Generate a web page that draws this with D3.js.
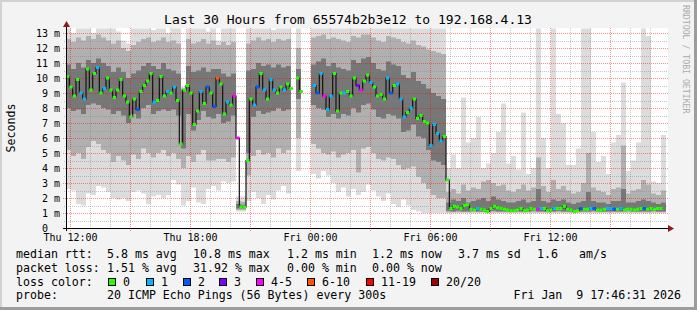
<!DOCTYPE html>
<html>
<head>
<meta charset="utf-8">
<script src="https://cdn.jsdelivr.net/npm/d3@7"></script>
<style>
body{margin:0;background:#f3f3f3;}
svg text{font-family:"DejaVu Sans Mono",monospace;}
</style>
</head>
<body>
<svg id="chart"></svg>
<script>
// time window of the graph
const startTime = new Date(2026, 0, 8, 11, 48);
const endTime = new Date(2026, 0, 9, 17, 48);
const smokeStepMin = 15;
const medianStepMin = 10;

// smoke bands (ms), one value per 15 minutes
const smokeHiOuter = [
13.3,13.0,13.3,13.3,13.3,13.0,13.3,13.3,13.3,13.3,
13.1,12.5,12.3,13.3,13.3,13.3,13.3,13.2,13.3,13.3,
13.0,13.3,13.3,9.4,13.3,13.3,13.3,13.3,13.1,13.3,
12.5,13.3,13.3,13.3,2.1,2.1,13.3,13.3,13.3,13.3,
13.3,13.2,13.3,13.3,13.3,null,13.3,null,null,13.3,
13.3,13.3,13.3,13.3,13.3,13.3,13.3,13.3,13.3,13.3,
13.3,13.3,13.3,13.3,13.3,13.3,13.3,13.3,13.3,13.3,
13.3,13.3,13.3,13.3,13.3,13.3,4.0,4.9,4.0,8.7,
5.7,6.0,7.4,4.0,4.3,5.0,6.4,8.3,4.3,4.8,
3.9,7.7,3.6,4.0,13.3,6.0,4.0,13.3,7.6,7.0,
4.2,4.2,5.3,13.3,13.3,6.4,4.4,4.8,3.6,5.7,
6.2,9.7,3.8,4.5,5.7,13.3,12.8,3.1,3.0,6.2];
const smokeHiMid = [
12.6,12.4,12.7,12.5,12.8,12.6,12.9,12.7,12.5,12.3,
12.5,12.0,11.8,12.2,12.4,12.6,12.7,12.4,12.5,12.7,
12.4,12.5,12.3,9.3,12.6,12.3,12.4,12.6,12.3,12.5,
12.2,12.4,12.2,12.4,1.8,1.75,12.3,12.5,12.7,12.5,
12.6,12.4,12.6,12.5,12.6,null,12.0,null,null,12.7,
12.8,12.9,12.6,12.7,12.6,12.5,12.4,12.8,12.7,12.9,
12.9,12.7,12.5,12.4,12.8,12.7,12.6,12.4,12.3,12.5,
12.2,12.1,11.9,11.8,11.7,11.6,2.4,2.6,2.3,2.9,
2.5,2.7,2.6,3.1,3.2,3.0,2.8,2.9,2.5,2.4,
2.6,2.9,2.5,2.7,4.7,2.8,2.4,3.2,2.6,2.8,
2.5,2.3,2.4,3.0,5.0,2.7,2.5,2.4,2.2,2.6,
2.7,5.5,2.3,2.5,2.6,3.2,2.9,2.3,2.2,2.5];
const smokeHiInner = [
10.9,10.6,11.0,10.7,11.2,11.0,11.3,11.0,10.8,10.4,
10.7,10.4,10.0,10.3,10.5,10.8,11.0,10.8,10.6,11.0,
10.6,10.5,10.3,9.2,10.8,10.4,10.5,10.7,10.4,10.6,
10.6,10.3,10.1,10.3,1.6,1.55,10.5,10.6,11.0,10.8,
10.9,10.7,10.9,10.7,10.8,null,10.6,null,null,10.9,
11.1,11.3,10.8,11.0,10.7,10.6,10.5,11.2,11.0,11.3,
11.4,11.0,10.6,10.5,11.1,10.9,10.8,10.2,10.0,10.4,
9.8,9.6,9.3,9.0,8.8,8.6,1.7,1.9,1.8,2.0,
1.7,1.8,1.9,2.0,1.8,2.1,1.9,1.8,1.7,1.7,
1.8,1.9,1.7,1.8,2.6,1.8,1.7,1.9,1.8,1.9,
1.7,1.6,1.7,1.8,2.4,1.8,1.7,1.7,1.6,1.8,
1.8,2.6,1.7,1.7,1.8,1.9,1.8,1.7,1.6,1.7];
const smokeLoInner = [
8.0,7.8,7.9,7.6,8.2,8.3,8.2,8.0,7.9,7.6,
7.8,7.5,7.0,7.6,7.3,8.0,8.2,7.6,7.8,7.9,
7.8,7.9,7.5,5.3,7.6,6.5,7.2,7.8,7.4,7.3,
7.6,7.0,7.1,7.5,1.3,1.3,5.0,7.4,7.8,7.6,
7.7,7.8,8.0,7.8,7.9,null,8.6,null,null,8.2,
8.0,7.9,7.4,7.6,7.3,7.6,7.5,8.0,7.7,8.2,
8.3,7.9,7.4,7.3,7.6,7.5,7.3,6.4,6.5,6.9,
6.1,6.0,5.2,4.5,4.4,4.2,1.15,1.1,1.15,1.1,
1.1,1.15,1.1,1.1,1.1,1.15,1.1,1.1,1.1,1.15,
1.1,1.1,1.1,1.15,1.1,1.1,1.1,1.1,1.15,1.1,
1.1,1.1,1.1,1.1,1.1,1.15,1.1,1.1,1.1,1.1,
1.1,1.1,1.15,1.1,1.1,1.1,1.1,1.15,1.1,1.1];
const smokeLoMid = [
5.2,4.8,5.0,4.6,5.4,5.8,5.6,5.2,5.0,4.4,
4.8,4.5,4.2,4.9,4.6,5.3,5.0,4.7,5.0,5.2,
4.8,5.0,4.6,4.0,4.8,4.4,4.9,5.2,4.5,4.5,
4.6,4.6,4.4,4.7,1.2,1.2,3.5,4.8,5.2,4.9,
5.0,4.7,5.3,5.0,5.2,null,6.0,null,null,5.6,
5.3,5.0,4.9,5.1,4.7,4.9,5.0,5.2,3.7,5.3,
5.4,5.0,4.6,4.5,4.7,4.6,4.2,3.9,4.0,4.1,
3.4,3.0,2.6,2.2,2.0,2.0,1.05,1.05,1.05,1.05,
1.05,1.05,1.05,1.05,1.05,1.05,1.05,1.05,1.05,1.05,
1.05,1.05,1.05,1.05,1.05,1.05,1.05,1.05,1.05,1.05,
1.05,1.05,1.05,1.05,1.05,1.05,1.05,1.05,1.05,1.05,
1.05,1.05,1.05,1.05,1.05,1.05,1.05,1.05,1.05,1.05];
const smokeLoOuter = [
2.6,2.5,1.6,1.5,2.3,2.2,2.8,2.7,2.4,2.0,
1.9,2.0,1.8,2.4,2.5,2.3,1.6,2.1,2.2,2.0,
2.2,3.2,2.9,1.5,1.8,2.7,1.7,1.6,2.6,2.8,
2.5,3.1,3.0,3.1,1.1,1.1,1.8,2.4,2.0,1.6,
2.2,1.9,2.5,2.8,2.3,null,3.8,null,null,3.6,
3.3,3.8,3.5,3.0,2.4,2.7,2.1,2.6,2.2,2.4,
2.9,2.5,2.1,1.8,2.3,1.6,1.4,1.9,1.5,1.2,
1.1,1.0,1.0,1.0,1.0,1.0,1.0,1.0,1.0,1.0,
1.0,1.0,1.0,1.0,1.0,1.0,1.0,1.0,1.0,1.0,
1.0,1.0,1.0,1.0,1.0,1.0,1.0,1.0,1.0,1.0,
1.0,1.0,1.0,1.0,1.0,1.0,1.0,1.0,1.0,1.0,
1.0,1.0,1.0,1.0,1.0,1.0,1.0,1.0,1.0,1.0];

// median rtt (ms), one value per 10 minutes
const medianMs = [
10.1,9.4,8.8,9.9,9.0,8.6,10.6,9.2,10.3,10.7,
9.0,9.3,10.0,9.2,8.7,9.2,9.9,8.8,8.4,7.4,
8.6,7.9,9.1,9.5,9.8,10.3,8.4,8.5,10.1,8.8,
9.1,9.0,9.4,8.5,5.6,9.2,9.5,9.0,6.9,7.8,
9.1,8.3,9.4,9.0,8.1,10.0,9.6,7.6,8.4,8.2,
8.8,6.0,1.4,1.4,4.5,8.6,8.2,9.4,10.3,9.2,
8.6,9.9,9.2,9.0,9.4,9.2,9.6,9.3,null,10.0,
9.1,null,null,null,9.5,9.0,10.3,8.8,7.9,8.8,
10.3,7.8,9.0,9.0,9.1,8.8,10.0,9.5,9.2,9.8,
10.2,9.7,9.4,8.8,8.9,8.6,10.0,9.0,9.5,9.6,
8.6,7.4,7.7,8.0,8.6,7.3,7.5,7.1,7.0,5.5,
6.9,6.3,5.8,6.1,3.2,1.3,1.45,1.4,1.3,1.5,
1.55,1.25,1.2,1.3,1.25,1.2,1.1,1.3,1.45,1.35,
1.3,1.25,1.2,1.15,1.15,1.2,1.3,1.15,1.2,1.3,
1.25,1.25,1.3,1.3,1.15,1.2,1.3,1.3,1.3,1.45,
1.25,1.2,1.1,1.15,1.3,1.25,1.25,1.3,1.3,1.2,
1.2,1.25,1.3,1.3,1.25,1.25,1.3,1.2,1.25,1.25,
1.2,1.25,1.3,1.3,1.25,1.3,1.25,1.3,1.3,null];

// lost pings out of 20, per median step
const lostPings = [
0,0,0,0,1,1,0,0,0,1, 0,1,0,0,0,0,0,0,0,0,
0,2,0,0,0,0,1,0,0,0, 1,0,1,0,0,0,0,0,0,0,
1,0,2,0,2,6,0,0,1,0, 4,4,0,0,0,0,1,2,0,1,
0,1,1,0,0,1,0,0,0,0, 0,0,0,0,1,2,1,4,1,1,
0,0,0,1,0,0,0,3,4,0, 0,1,0,0,0,0,1,2,0,1,
1,1,0,1,0,0,0,0,0,1, 1,1,1,0,0,0,0,0,0,0,
0,0,0,1,0,0,0,0,0,0, 0,0,0,0,0,0,0,0,0,0,
0,4,1,0,0,0,1,0,0,0, 0,0,0,0,2,0,0,1,2,0,
0,0,1,1,2,0,1,0,0,0, 0,0,0,2,0,0,0,0,0,0];

const lossLabels = ['0','1','2','3','4-5','6-10','11-19','20/20'];
const lossColors = ['#26ff00','#00b8ff','#0059ff','#7e00ff','#ff00ff','#ff5500','#ff0000','#a10000'];

const yTickValues = [0,1,2,3,4,5,6,7,8,9,10,11,12,13];
const xLabelTimes = [new Date(2026,0,8,12), new Date(2026,0,8,18), new Date(2026,0,9,0), new Date(2026,0,9,6), new Date(2026,0,9,12)];

const W = 697, H = 310;
let svg = d3.select('#chart').attr('width', W).attr('height', H);

// frame
svg.append('rect').attr('width', W).attr('height', H).attr('fill', '#f3f3f3');
svg.append('rect').attr('x', 0).attr('y', 0).attr('width', W).attr('height', 2).attr('fill', '#d2d2d2');
svg.append('rect').attr('x', 0).attr('y', 0).attr('width', 2).attr('height', H).attr('fill', '#d2d2d2');
svg.append('rect').attr('x', 0).attr('y', H-3).attr('width', W).attr('height', 3).attr('fill', '#9c9c9c');
svg.append('rect').attr('x', W-3).attr('y', 0).attr('width', 3).attr('height', H).attr('fill', '#9c9c9c');

let xScale = d3.scaleTime().domain([startTime, endTime]).range([66, 666]);
let yScale = d3.scaleLinear().domain([0, 200/15]).range([228, 28]);

svg.append('rect').attr('x', 66).attr('y', 28).attr('width', 602).attr('height', 200).attr('fill', '#ffffff');

svg.append('clipPath').attr('id', 'canvas')
   .append('rect').attr('x', 66).attr('y', 28).attr('width', 602).attr('height', 200);

let stepTime = (i, minutes) => new Date(startTime.getTime() + i * minutes * 60000);

// smoke
let smokeRows = [];
smokeHiOuter.forEach((v, i) => {
    let row = {hiO: v, hiM: smokeHiMid[i], hiI: smokeHiInner[i],
               loI: smokeLoInner[i], loM: smokeLoMid[i], loO: smokeLoOuter[i]};
    smokeRows.push(Object.assign({t: stepTime(i, smokeStepMin)}, row));
    smokeRows.push(Object.assign({t: stepTime(i + 1, smokeStepMin)}, row));
});

let smoke = svg.append('g').attr('clip-path', 'url(#canvas)');
[['loO','hiO','#dcdcdc'], ['loM','hiM','#b0b0b0'], ['loI','hiI','#777777']].forEach(([lo, hi, col]) => {
    let area = d3.area()
                 .defined(d => d[hi] != null)
                 .x(d => xScale(d.t))
                 .y0(d => yScale(d[lo]))
                 .y1(d => yScale(d[hi]));
    smoke.append('path').datum(smokeRows).attr('d', area).attr('fill', col);
});

// grid
let grid = svg.append('g').attr('shape-rendering', 'crispEdges');
let hours = d3.timeHour.every(1).range(startTime, endTime);
hours.forEach(h => {
    let major = h.getHours() % 3 === 0;
    let x = Math.round(xScale(h)) + 0.5;
    grid.append('line')
        .attr('x1', x).attr('x2', x)
        .attr('y1', 28).attr('y2', major ? 231 : 230)
        .attr('stroke', major ? 'rgba(255,0,0,0.45)' : 'rgba(130,130,130,0.45)')
        .attr('stroke-dasharray', '1,1');
});
d3.range(1, 27).forEach(k => {
    let v = k / 2;
    let major = k % 2 === 0;
    let y = Math.round(yScale(v)) + 0.5;
    grid.append('line')
        .attr('x1', major ? 63 : 64).attr('x2', 668)
        .attr('y1', y).attr('y2', y)
        .attr('stroke', major ? 'rgba(255,0,0,0.45)' : 'rgba(130,130,130,0.45)')
        .attr('stroke-dasharray', '1,1');
});

// median: dark core then loss-coloured steps
let medRows = [];
medianMs.forEach((v, j) => {
    medRows.push({t: stepTime(j, medianStepMin), v: v});
    medRows.push({t: stepTime(j + 1, medianStepMin), v: v});
});
let coreLine = d3.line().defined(d => d.v != null).x(d => xScale(d.t)).y(d => yScale(d.v));
svg.append('path').datum(medRows).attr('d', coreLine)
   .attr('fill', 'none').attr('stroke', '#141414').attr('stroke-width', 1.2)
   .attr('clip-path', 'url(#canvas)');

let lossIndex = n => n === 0 ? 0 : n === 1 ? 1 : n === 2 ? 2 : n === 3 ? 3 :
                     n <= 5 ? 4 : n <= 10 ? 5 : n < 20 ? 6 : 7;

svg.append('g').attr('clip-path', 'url(#canvas)')
   .selectAll('rect')
   .data(medianMs.map((v, j) => ({j: j, v: v, loss: lostPings[j]})).filter(d => d.v != null))
   .enter()
   .append('rect')
   .attr('x', d => xScale(stepTime(d.j, medianStepMin)))
   .attr('width', d => xScale(stepTime(d.j + 1, medianStepMin)) - xScale(stepTime(d.j, medianStepMin)))
   .attr('y', d => yScale(d.v) - 1.5)
   .attr('height', 3)
   .attr('fill', d => lossColors[lossIndex(d.loss)]);

// axes
svg.append('line').attr('x1', 63).attr('x2', 670).attr('y1', 228.5).attr('y2', 228.5)
   .attr('stroke', '#000').attr('shape-rendering', 'crispEdges');
svg.append('path').attr('d', 'M668,225 L674,228.5 L668,232 Z').attr('fill', '#8e1a1a');
svg.append('line').attr('x1', 66.5).attr('x2', 66.5).attr('y1', 231).attr('y2', 25)
   .attr('stroke', '#000').attr('shape-rendering', 'crispEdges');
svg.append('path').attr('d', 'M63,27 L66.5,21 L70,27 Z').attr('fill', '#8e1a1a');

svg.append('g').selectAll('text')
   .data(yTickValues)
   .enter()
   .append('text')
   .attr('x', d => d === 0 ? 48 : 60)
   .attr('y', d => yScale(d) + 3.5)
   .attr('text-anchor', 'end')
   .style('font-size', '10px')
   .text(d => d === 0 ? '0' : d + ' m');

svg.append('g').selectAll('text')
   .data(xLabelTimes)
   .enter()
   .append('text')
   .attr('x', d => xScale(d) + 0.5)
   .attr('y', 241)
   .attr('text-anchor', 'middle')
   .style('font-size', '10px')
   .text(d3.timeFormat('%a %H:%M'));

// titles
svg.append('text').attr('x', 348).attr('y', 24).attr('text-anchor', 'middle')
   .style('font-size', '13px')
   .text('Last 30 Hours from 65574b2b3e12 to 192.168.4.13');
svg.append('text').attr('transform', 'translate(15,128) rotate(-90)').attr('text-anchor', 'middle')
   .style('font-size', '11.6px')
   .text('Seconds');
svg.append('text').attr('transform', 'translate(683,5) rotate(90)')
   .style('font-size', '8.2px').attr('fill', '#ababab')
   .text('RRDTOOL / TOBI OETIKER');

// legend
let legendText = (x, y, s, anchor) => svg.append('text')
    .attr('x', x).attr('y', y)
    .attr('text-anchor', anchor || 'start')
    .style('font-size', '11.6px').style('white-space', 'pre')
    .text(s);

legendText(16, 258.3, 'median rtt:');
legendText(107, 258.3, '5.8 ms avg');
legendText(193, 258.3, '10.8 ms max');
legendText(287, 258.3, '1.2 ms min');
legendText(372, 258.3, '1.2 ms now');
legendText(458, 258.3, '3.7 ms sd');
legendText(537, 258.3, '1.6');
legendText(579, 258.3, 'am/s');

legendText(16, 272, 'packet loss:');
legendText(107, 272, '1.51 % avg');
legendText(193, 272, '31.92 % max');
legendText(287, 272, '0.00 % min');
legendText(372, 272, '0.00 % now');

legendText(16, 285.7, 'loss color:');
const boxX = [108, 146, 183, 219, 256, 307, 366, 431];
boxX.forEach((bx, i) => {
    svg.append('rect').attr('x', bx + 0.5).attr('y', 278.5).attr('width', 7).attr('height', 7)
       .attr('fill', lossColors[i]).attr('stroke', '#000').attr('stroke-width', 1)
       .attr('shape-rendering', 'crispEdges');
    legendText(bx + 15, 285.7, lossLabels[i]);
});

legendText(16, 299, 'probe:');
legendText(107, 299, '20 ICMP Echo Pings (56 Bytes) every 300s');
legendText(681, 299, 'Fri Jan  9 17:46:31 2026', 'end');
</script>
</body>
</html>
